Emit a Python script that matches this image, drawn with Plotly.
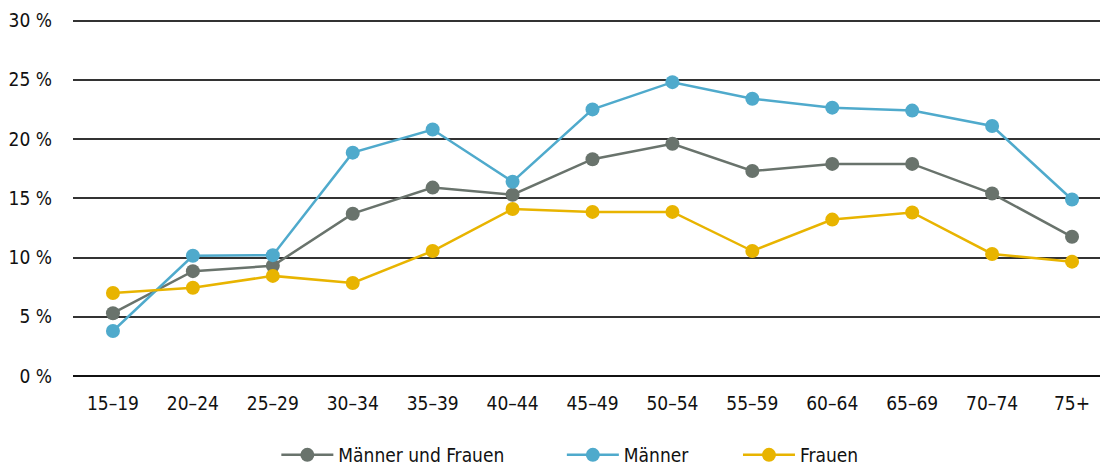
import plotly.graph_objects as go

categories = ["15–19", "20–24", "25–29", "30–34", "35–39", "40–44", "45–49",
              "50–54", "55–59", "60–64", "65–69", "70–74", "75+"]
gesamt = [5.3, 8.85, 9.3, 13.7, 15.9, 15.3, 18.3, 19.6, 17.3, 17.9, 17.9, 15.4, 11.75]
maenner = [3.8, 10.15, 10.2, 18.85, 20.8, 16.4, 22.5, 24.8, 23.4, 22.65, 22.4, 21.1, 14.9]
frauen = [7.0, 7.45, 8.45, 7.85, 10.55, 14.1, 13.85, 13.85, 10.55, 13.2, 13.8, 10.3, 9.65]

y_ticks = [0, 5, 10, 15, 20, 25, 30]
y_labels = [f"{v} %" for v in y_ticks]

series = [
    ("Männer und Frauen", gesamt, "#69736c", "legend", 0.198),
    ("Männer", maenner, "#4faacc", "legend2", 0.476),
    ("Frauen", frauen, "#e8b400", "legend3", 0.6475),
]

fig = go.Figure()
for name, vals, col, lg, _ in series:
    fig.add_trace(go.Scatter(
        x=list(range(len(categories))), y=vals, name=name, mode="lines+markers",
        line=dict(color=col, width=2.5),
        marker=dict(color=col, size=14),
        cliponaxis=False, legend=lg,
    ))

font_family = "DejaVu Sans Condensed, Liberation Sans Narrow, sans-serif"
legends = {}
for name, vals, col, lg, lx in series:
    legends[lg] = dict(orientation="h", x=lx, xanchor="left", y=-0.22, yanchor="middle",
                       font=dict(size=19), bgcolor="rgba(0,0,0,0)", itemwidth=52)

fig.update_layout(
    width=1100, height=466,
    margin=dict(l=73, r=0, t=17, b=90, autoexpand=False),
    plot_bgcolor="white", paper_bgcolor="white",
    font=dict(family=font_family, size=19, color="#111111"),
    showlegend=True,
    **legends,
)
fig.update_xaxes(
    range=[-0.5, 12.35], tickmode="array", tickvals=list(range(len(categories))),
    ticktext=categories, showgrid=False, zeroline=False, showline=False,
    ticks="", ticklabelstandoff=14, automargin=False,
)
fig.update_yaxes(
    range=[0, 30.3], tickmode="array", tickvals=y_ticks, ticktext=y_labels,
    showgrid=True, gridcolor="#333333", gridwidth=1.5, zeroline=True,
    zerolinecolor="#111111", zerolinewidth=1.5, showline=False, ticks="",
    ticklabelstandoff=20, automargin=False,
)
fig.write_html("out.html", post_script="document.body.style.margin='0';",
               config={"displayModeBar": False})
